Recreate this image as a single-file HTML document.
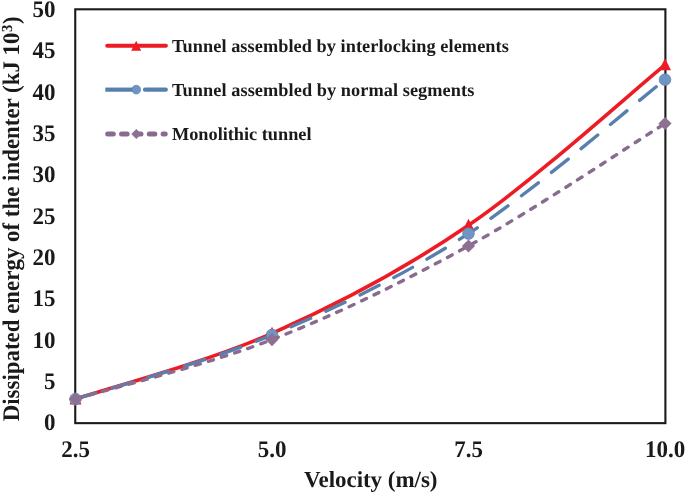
<!DOCTYPE html>
<html><head><meta charset="utf-8"><style>
html,body{margin:0;padding:0;background:#fff;}
svg{display:block;will-change:transform;}
text{font-family:"Liberation Serif",serif;font-weight:bold;fill:#1a1a1a;text-rendering:geometricPrecision;}
</style></head><body>
<svg width="685" height="492" viewBox="0 0 685 492">
<rect width="685" height="492" fill="#fff"/>
<rect x="75.25" y="9.3" width="590.15" height="413.85" fill="none" stroke="#1a1a1a" stroke-width="2.1"/>
<g font-size="23"><text transform="translate(55.6,430.35) scale(1,1.035)" text-anchor="end">0</text><text transform="translate(55.6,389.00) scale(1,1.035)" text-anchor="end">5</text><text transform="translate(55.6,347.65) scale(1,1.035)" text-anchor="end">10</text><text transform="translate(55.6,306.30) scale(1,1.035)" text-anchor="end">15</text><text transform="translate(55.6,264.95) scale(1,1.035)" text-anchor="end">20</text><text transform="translate(55.6,223.60) scale(1,1.035)" text-anchor="end">25</text><text transform="translate(55.6,182.25) scale(1,1.035)" text-anchor="end">30</text><text transform="translate(55.6,140.90) scale(1,1.035)" text-anchor="end">35</text><text transform="translate(55.6,99.55) scale(1,1.035)" text-anchor="end">40</text><text transform="translate(55.6,58.20) scale(1,1.035)" text-anchor="end">45</text><text transform="translate(55.6,16.85) scale(1,1.035)" text-anchor="end">50</text><text transform="translate(75.50,457.45) scale(1,1.035)" text-anchor="middle">2.5</text><text transform="translate(272.00,457.45) scale(1,1.035)" text-anchor="middle">5.0</text><text transform="translate(468.50,457.45) scale(1,1.035)" text-anchor="middle">7.5</text><text transform="translate(665.00,457.45) scale(1,1.035)" text-anchor="middle">10.0</text></g>
<text x="304" y="487.2" font-size="23" textLength="133.5" lengthAdjust="spacing">Velocity (m/s)</text>
<text transform="translate(19.3,421.3) rotate(-90) scale(0.9955,1.035)" font-size="23">Dissipated energy of the indenter (kJ 10<tspan font-size="14.8" dy="-7.3" dx="0.5">3</tspan><tspan dy="7.3" dx="0.6">)</tspan></text>
<path d="M75.50,399.07 C108.25,388.11 206.50,362.28 272.00,333.32 C337.50,304.36 403.00,270.05 468.50,225.31 C534.00,180.57 632.25,91.61 665.00,64.87" fill="none" stroke="#ED1C24" stroke-width="3.6"/><path d="M75.50,392.47 L81.50,404.47 L69.50,404.47 Z" fill="#ED1C24"/><path d="M272.00,326.72 L278.00,338.72 L266.00,338.72 Z" fill="#ED1C24"/><path d="M468.50,218.71 L474.50,230.71 L462.50,230.71 Z" fill="#ED1C24"/><path d="M665.00,58.27 L671.00,70.27 L659.00,70.27 Z" fill="#ED1C24"/><path d="M75.50,399.07 C108.25,388.38 206.50,362.55 272.00,334.97 C337.50,307.39 403.00,276.13 468.50,233.58 C534.00,191.03 632.25,105.33 665.00,79.68" fill="none" stroke="#5880AE" stroke-width="3.4" stroke-linecap="round" stroke-dasharray="21.3 16.65"/><circle cx="75.50" cy="399.07" r="5.8500000000000005" fill="#6F96C3" stroke="#5880AE" stroke-width="0.7"/><circle cx="272.00" cy="334.97" r="5.8500000000000005" fill="#6F96C3" stroke="#5880AE" stroke-width="0.7"/><circle cx="468.50" cy="233.58" r="5.8500000000000005" fill="#6F96C3" stroke="#5880AE" stroke-width="0.7"/><circle cx="665.00" cy="79.68" r="5.8500000000000005" fill="#6F96C3" stroke="#5880AE" stroke-width="0.7"/><path d="M75.50,399.07 C108.25,389.15 206.50,365.12 272.00,339.60 C337.50,314.09 403.00,282.00 468.50,245.99 C534.00,209.97 632.25,143.92 665.00,123.51" fill="none" stroke="#8A6B90" stroke-width="3.4" stroke-linecap="round" stroke-dasharray="5.3 8.45" stroke-dashoffset="-0.6"/><path d="M75.50,392.47 L82.10,399.07 L75.50,405.67 L68.90,399.07 Z" fill="#8E7093"/><path d="M272.00,333.00 L278.60,339.60 L272.00,346.20 L265.40,339.60 Z" fill="#8E7093"/><path d="M468.50,239.39 L475.10,245.99 L468.50,252.59 L461.90,245.99 Z" fill="#8E7093"/><path d="M665.00,116.91 L671.60,123.51 L665.00,130.11 L658.40,123.51 Z" fill="#8E7093"/>
<g>
<line x1="107.3" y1="45.75" x2="165.8" y2="45.75" stroke="#ED1C24" stroke-width="4.2" stroke-linecap="round"/>
<path d="M136.20,40.75 L141.20,50.75 L131.20,50.75 Z" fill="#ED1C24"/>
<line x1="105.3" y1="89.65" x2="134" y2="89.65" stroke="#5880AE" stroke-width="4.2"/>
<line x1="145" y1="89.65" x2="165.8" y2="89.65" stroke="#5880AE" stroke-width="4.2" stroke-linecap="round"/>
<circle cx="136.25" cy="89.65" r="4.3500000000000005" fill="#6F96C3" stroke="#5880AE" stroke-width="0.7"/>
<path d="M107.7,134.1 H165.2" stroke="#8A6B90" stroke-width="5" stroke-linecap="round" stroke-dasharray="5.6 8.25"/>
<path d="M136.30,129.10 L141.30,134.10 L136.30,139.10 L131.30,134.10 Z" fill="#8E7093"/>
<text x="172" y="51.6" font-size="18.3" textLength="336.8" lengthAdjust="spacing">Tunnel assembled by interlocking elements</text>
<text x="172" y="95.8" font-size="18.3" textLength="302.3" lengthAdjust="spacing">Tunnel assembled by normal segments</text>
<text x="172" y="139.8" font-size="18.3" textLength="139.5" lengthAdjust="spacing">Monolithic tunnel</text>
</g>
</svg>
</body></html>
